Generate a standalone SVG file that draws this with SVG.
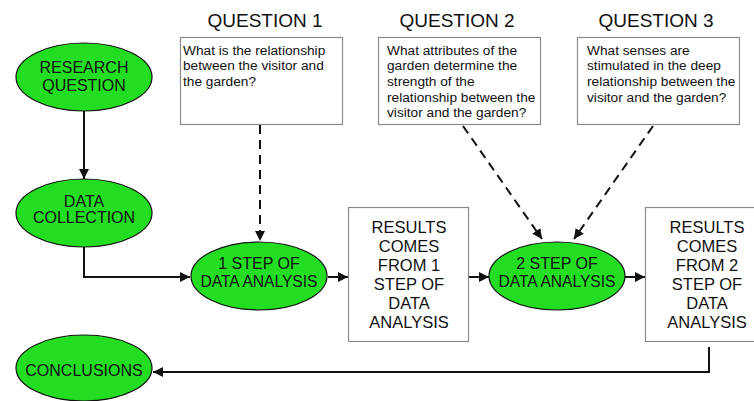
<svg xmlns="http://www.w3.org/2000/svg" width="754" height="401" viewBox="0 0 754 401">
<style>
.ell{fill:#22dd22;stroke:#111;stroke-width:1.2}
.box{fill:#fff;stroke:#8a8a8a;stroke-width:1.2}
.t{font-family:"Liberation Sans",Arial,sans-serif;fill:#111}
.et{font-size:16px;text-anchor:middle}
.rt{font-size:16.5px;text-anchor:middle}
.qt{font-size:13.7px}
.qh{font-size:19px;text-anchor:middle}
.ln{fill:none;stroke:#111;stroke-width:2}
.dash{stroke-dasharray:9 6}
</style>
<defs>
<marker id="ah" viewBox="0 0 10 10" refX="10" refY="5" markerWidth="5" markerHeight="5" markerUnits="strokeWidth" orient="auto">
<path d="M0,0 L10,5 L0,10 z" fill="#111"/>
</marker>
</defs>
<rect width="754" height="401" fill="#fff"/>
<g id="connectors">
<path class="ln" d="M84,111 V179" marker-end="url(#ah)"/>
<path class="ln" d="M84,247 V277 H190" marker-end="url(#ah)"/>
<path class="ln dash" d="M260,125 V241" marker-end="url(#ah)"/>
<path class="ln dash" d="M463,126 L542,239" marker-end="url(#ah)"/>
<path class="ln dash" d="M653,126 L574,239" marker-end="url(#ah)"/>
<path class="ln" d="M328,277 H348" marker-end="url(#ah)"/>
<path class="ln" d="M469,277 H489" marker-end="url(#ah)"/>
<path class="ln" d="M625,277 H645" marker-end="url(#ah)"/>
<path class="ln" d="M709,347 V372 H153" marker-end="url(#ah)"/>
</g>
<g id="research-question">
<ellipse class="ell" cx="84" cy="77" rx="68" ry="34"/>
<text class="t et" x="84" y="73">RESEARCH</text>
<text class="t et" x="84" y="91">QUESTION</text>
</g>
<g id="data-collection">
<ellipse class="ell" cx="84" cy="213" rx="68" ry="34"/>
<text class="t et" x="84" y="207">DATA</text>
<text class="t et" x="84" y="223">COLLECTION</text>
</g>
<g id="conclusions">
<ellipse class="ell" cx="84" cy="368" rx="68" ry="33"/>
<text class="t et" x="84" y="376">CONCLUSIONS</text>
</g>
<g id="question1">
<text class="t qh" x="265" y="27">QUESTION 1</text>
<rect class="box" x="180.5" y="37.5" width="162" height="87"/>
<text class="t qt" x="183" y="55">What is the relationship</text>
<text class="t qt" x="183" y="70">between the visitor and</text>
<text class="t qt" x="183" y="86">the garden?</text>
</g>
<g id="question2">
<text class="t qh" x="457" y="27">QUESTION 2</text>
<rect class="box" x="378.5" y="37.5" width="162" height="87"/>
<text class="t qt" x="387" y="55">What attributes of the</text>
<text class="t qt" x="387" y="70">garden determine the</text>
<text class="t qt" x="387" y="86">strength of the</text>
<text class="t qt" x="387" y="102">relationship between the</text>
<text class="t qt" x="387" y="117">visitor and the garden?</text>
</g>
<g id="question3">
<text class="t qh" x="656" y="27">QUESTION 3</text>
<rect class="box" x="577.5" y="37.5" width="162" height="87"/>
<text class="t qt" x="587" y="55">What senses are</text>
<text class="t qt" x="587" y="70">stimulated in the deep</text>
<text class="t qt" x="587" y="86">relationship between the</text>
<text class="t qt" x="587" y="102">visitor and the garden?</text>
</g>
<g id="step1">
<ellipse class="ell" cx="259" cy="276" rx="68" ry="34"/>
<text class="t et" x="259" y="269">1 STEP OF</text>
<text class="t et" x="259" y="287" textLength="117" lengthAdjust="spacingAndGlyphs">DATA ANALYSIS</text>
</g>
<g id="results1">
<rect class="box" x="348.5" y="207.5" width="120" height="134"/>
<text class="t rt" x="409" y="233">RESULTS</text>
<text class="t rt" x="409" y="252">COMES</text>
<text class="t rt" x="409" y="271">FROM 1</text>
<text class="t rt" x="409" y="290">STEP OF</text>
<text class="t rt" x="409" y="309">DATA</text>
<text class="t rt" x="409" y="328">ANALYSIS</text>
</g>
<g id="step2">
<ellipse class="ell" cx="557" cy="276" rx="68" ry="34"/>
<text class="t et" x="557" y="269">2 STEP OF</text>
<text class="t et" x="557" y="287" textLength="117" lengthAdjust="spacingAndGlyphs">DATA ANALYSIS</text>
</g>
<g id="results2">
<rect class="box" x="645.5" y="207.5" width="110" height="134"/>
<text class="t rt" x="707" y="233">RESULTS</text>
<text class="t rt" x="707" y="252">COMES</text>
<text class="t rt" x="707" y="271">FROM 2</text>
<text class="t rt" x="707" y="290">STEP OF</text>
<text class="t rt" x="707" y="309">DATA</text>
<text class="t rt" x="707" y="328">ANALYSIS</text>
</g>
</svg>
